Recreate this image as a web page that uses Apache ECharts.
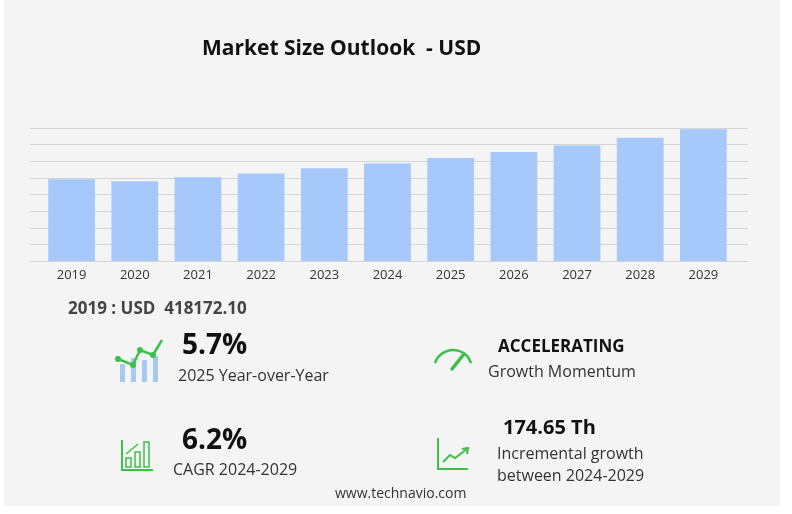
<!DOCTYPE html>
<html><head><meta charset="utf-8">
<script src="https://cdn.jsdelivr.net/npm/echarts@6/dist/echarts.min.js"></script>
<style>html,body{margin:0;padding:0;background:#fff}#c{width:792px;height:514px}</style>
</head><body><div id="c"></div>
<script>
const years = ['2019','2020','2021','2022','2023','2024','2025','2026','2027','2028','2029'];
const values = [418172.10, 408000, 428000, 448000, 474000, 499000, 527000, 557000, 590000, 630000, 673650];
const chart = echarts.init(document.getElementById('c'));
const F = '"Open Sans", "Noto Sans", sans-serif';
const G = '#3cc04a';
function t(x,y,text,size,weight,color){return {type:'text',left:x,top:y,style:{text:text,font:(weight||'normal')+' '+size+'px '+F,fill:color||'#222'}};}
chart.setOption({
  backgroundColor:'#fff',
  graphic:[
    {type:'rect',shape:{x:4,y:0,width:776,height:506},style:{fill:'#f4f4f4'},z:-10},
    {type:'line',shape:{x1:30,y1:128.5,x2:748,y2:128.5},style:{stroke:'#d4d4d4'},z:-5},
    t(202,39,'Market Size Outlook  - USD',21,'bold','#111'),
    t(68,301,'2019 : USD  418172.10',17,'bold','#444'),
    t(182,332,'5.7%',28,'bold','#111'),
    t(178,368,'2025 Year-over-Year',16,'normal','#333'),
    t(182,427,'6.2%',28,'bold','#111'),
    t(173,462,'CAGR 2024-2029',16,'normal','#333'),
    t(498,339,'ACCELERATING',17,'bold','#111'),
    t(488,364,'Growth Momentum',16,'normal','#333'),
    t(503,418,'174.65 Th',20,'bold','#111'),
    t(497,446,'Incremental growth',16,'normal','#333'),
    t(497,468,'between 2024-2029',16,'normal','#333'),
    t(335,487,'www.technavio.com',14,'normal','#333'),
    {type:'rect',shape:{x:120,y:364,width:5,height:18},style:{fill:'#a8c8f0'}},
    {type:'rect',shape:{x:131,y:358,width:5,height:24},style:{fill:'#a8c8f0'}},
    {type:'rect',shape:{x:142,y:360,width:5,height:22},style:{fill:'#a8c8f0'}},
    {type:'rect',shape:{x:153,y:356,width:5,height:26},style:{fill:'#a8c8f0'}},
    {type:'polyline',shape:{points:[[118,359],[133,365],[140,350],[153,355],[162,340]]},style:{stroke:G,lineWidth:2.5,fill:null}},
    {type:'circle',shape:{cx:133,cy:365,r:3},style:{fill:G}},
    {type:'circle',shape:{cx:140,cy:350,r:3},style:{fill:G}},
    {type:'circle',shape:{cx:153,cy:355,r:3},style:{fill:G}},
    {type:'circle',shape:{cx:118,cy:359,r:3},style:{fill:G}},
    {type:'polyline',shape:{points:[[122,440],[122,470],[153,470]]},style:{stroke:G,lineWidth:2,fill:null}},
    {type:'rect',shape:{x:126,y:458,width:5,height:9},style:{stroke:G,lineWidth:1.5,fill:null}},
    {type:'rect',shape:{x:135,y:452,width:5,height:15},style:{stroke:G,lineWidth:1.5,fill:null}},
    {type:'rect',shape:{x:144,y:442,width:5,height:25},style:{stroke:G,lineWidth:1.5,fill:null}},
    {type:'polyline',shape:{points:[[126,454],[138,444]]},style:{stroke:G,lineWidth:1.5,fill:null}},
    {type:'arc',shape:{cx:453,cy:369,r:19,startAngle:Math.PI*1.1,endAngle:Math.PI*1.9},style:{stroke:G,lineWidth:2.5,fill:null}},
    {type:'line',shape:{x1:452,y1:369,x2:464,y2:354},style:{stroke:G,lineWidth:3.5,lineCap:'round'}},
    {type:'polyline',shape:{points:[[438,438],[438,469],[468,469]]},style:{stroke:G,lineWidth:2,fill:null}},
    {type:'polyline',shape:{points:[[443,462],[450,455],[455,458],[467,449]]},style:{stroke:G,lineWidth:2,fill:null}},
    {type:'polyline',shape:{points:[[462,449],[468,448],[467,454]]},style:{stroke:G,lineWidth:2,fill:null}}
  ],
  grid:{left:40,right:57,top:128,bottom:253},
  xAxis:{type:'category',data:years,axisLine:{show:false},axisTick:{show:false},
    axisLabel:{color:'#333',fontSize:13,fontFamily:F,margin:8}},
  yAxis:{type:'value',min:0,max:680000,interval:85000,axisLabel:{show:false},axisLine:{show:false},axisTick:{show:false},
    splitLine:{show:false}},
  series:[{type:'bar',data:values,barWidth:'74%',itemStyle:{color:'#a7c8fb'},silent:true,
    markLine:{silent:true,symbol:'none',label:{show:false},lineStyle:{color:'#d4d4d4',type:'solid',width:1},z:-1,
      data:[0,85000,170000,255000,340000,425000,510000,595000].map(v=>[{x:30,yAxis:v},{x:748,yAxis:v}])}}]
});
</script></body></html>
